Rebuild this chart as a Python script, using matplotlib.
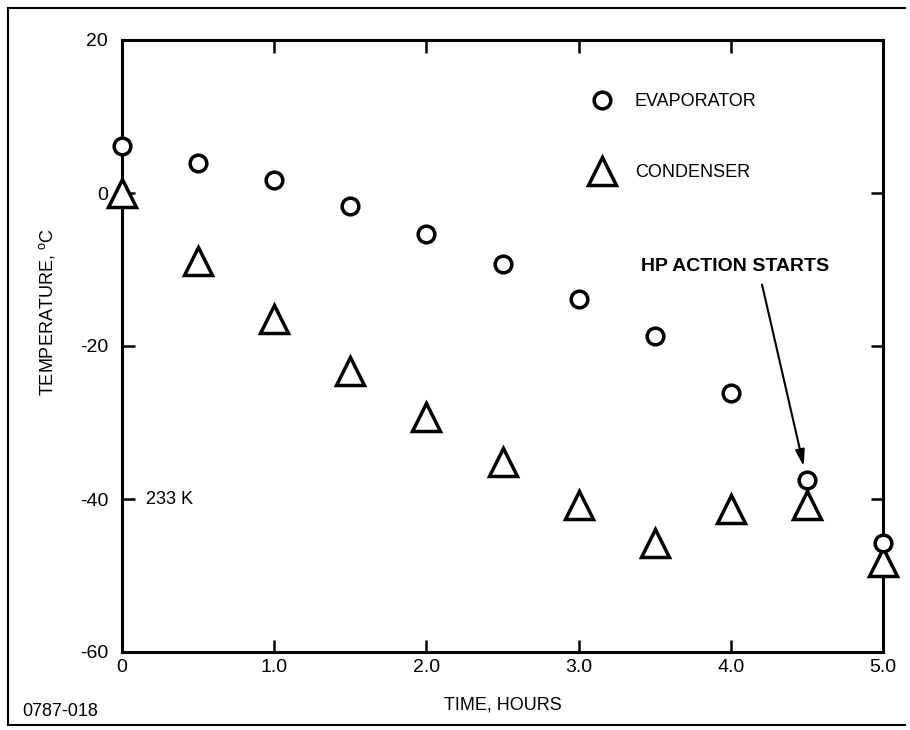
import matplotlib.pyplot as plt
from matplotlib.lines import Line2D

plt.rcParams['font.family'] = ['Liberation Sans', 'DejaVu Sans']
plt.rcParams['axes.unicode_minus'] = False

# Datos
horas = [0, 0.5, 1.0, 1.5, 2.0, 2.5, 3.0, 3.5, 4.0, 4.5, 5.0]
evaporador = [6.2, 3.9, 1.7, -1.7, -5.4, -9.3, -13.8, -18.7, -26.1, -37.5, -45.8]
condensador = [0, -8.9, -16.5, -23.3, -29.3, -35.1, -40.8, -45.7, -41.3, -40.8, -48.2]
xticks = [0, 1, 2, 3, 4, 5]
xtick_labels = ["0", "1.0", "2.0", "3.0", "4.0", "5.0"]
yticks = [20, 0, -20, -40, -60]

W, H = 910, 730
fig = plt.figure(figsize=(W / 100, H / 100), dpi=100)
ax = fig.add_axes([122 / W, 1 - 652 / H, (883 - 122) / W, (652 - 40) / H])

ax.plot(horas, evaporador, linestyle="none", marker="o", markersize=12,
        markerfacecolor="white", markeredgecolor="black", markeredgewidth=2.5,
        label="EVAPORATOR", clip_on=False, zorder=5)
ax.plot(horas, condensador, linestyle="none", marker="^", markersize=19.5,
        markerfacecolor="white", markeredgecolor="black", markeredgewidth=2.5,
        label="CONDENSER", clip_on=False, zorder=4)

ax.set_xlim(0, 5)
ax.set_ylim(-60, 20)
ax.set_xticks(xticks)
ax.set_xticklabels(xtick_labels)
ax.set_yticks(yticks)

for s in ax.spines.values():
    s.set_linewidth(2.2)
ax.tick_params(direction="in", length=9, width=1.8, labelsize=14,
               top=True, right=True)
ax.tick_params(axis="y", pad=10)
ax.tick_params(axis="x", pad=5)

# Leyenda
leg = ax.legend(loc="upper left", bbox_to_anchor=(588 / W, 1 - 93 / H),
                bbox_transform=fig.transFigure, frameon=False, fontsize=13,
                numpoints=1, handlelength=1.5, handletextpad=1.1,
                labelspacing=3.0, borderpad=0, borderaxespad=0)

# Anotaciones
ax.text(0.16, -40, "233 K", fontsize=13, va="center", ha="left")
ax.annotate("HP ACTION STARTS", xy=(horas[9], evaporador[9]),
            xytext=(4.03, -9.6), fontsize=14, fontweight="bold",
            ha="center", va="center",
            arrowprops=dict(arrowstyle="-|>,head_length=0.7,head_width=0.2",
                            color="black", lw=1.5, relpos=(0.63, 0),
                            shrinkA=5, shrinkB=10))

fig.text(47 / W, 1 - 312 / H, "TEMPERATURE, $^{\\mathregular{o}}$C",
         rotation=90, ha="center", va="center", fontsize=13)
fig.text(503 / W, 1 - 705 / H, "TIME, HOURS", ha="center", va="center",
         fontsize=13)
fig.text(22 / W, 1 - 712 / H, "0787-018", ha="left", va="center",
         fontsize=13)

# Marco exterior
for xs, ys in [((8, 905), (8, 8)), ((8, 8), (8, 725)), ((8, 905), (725, 725))]:
    fig.add_artist(Line2D([x / W for x in xs], [1 - y / H for y in ys],
                          color="black", lw=1.5))

fig.savefig("out.png", dpi=100)
